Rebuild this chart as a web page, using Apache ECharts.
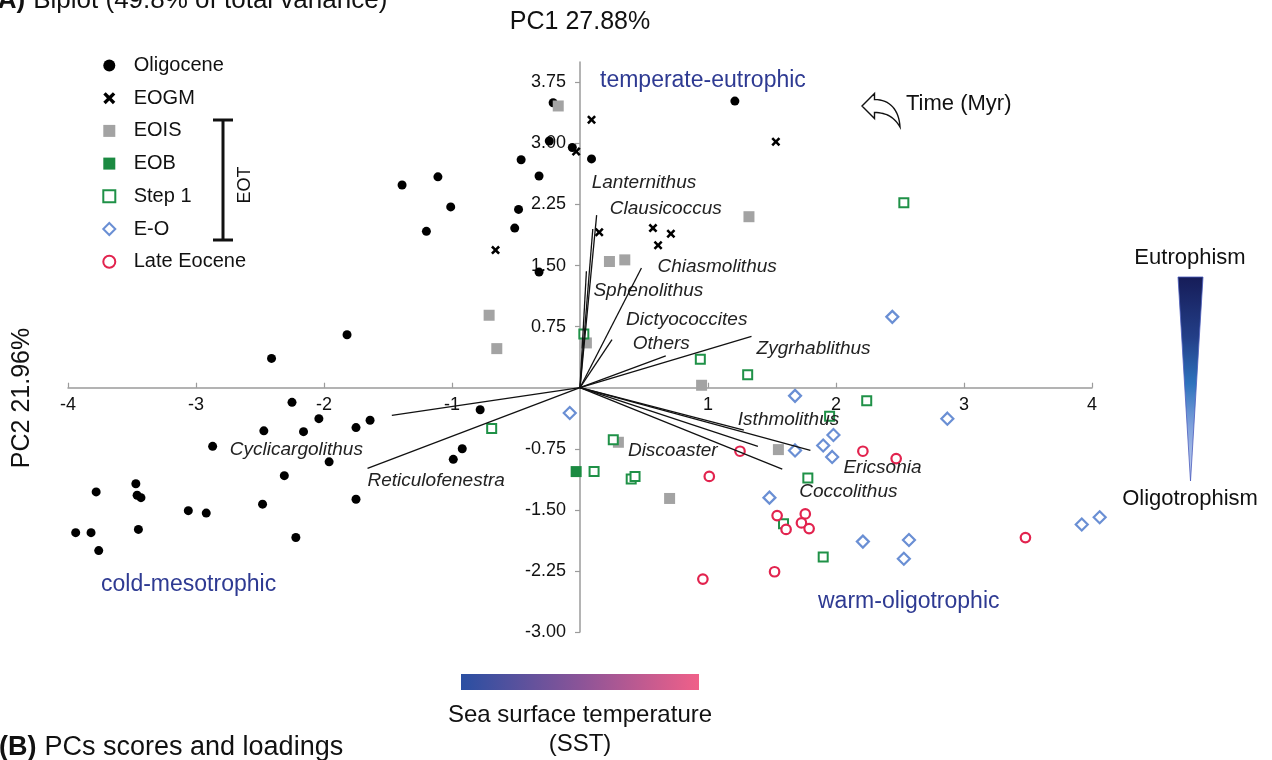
<!DOCTYPE html>
<html>
<head>
<meta charset="utf-8">
<title>Biplot</title>
<script src="https://cdn.jsdelivr.net/npm/echarts@6/dist/echarts.min.js"></script>
<style>
  html, body { margin: 0; padding: 0; background: #fff; }
  #chart { width: 1272px; height: 760px; }
</style>
</head>
<body>
<div id="chart"></div>
<script>
// PCA sample scores (PC1, PC2) per interval
const oligocene = [
  [-0.21, 3.50], [-0.24, 3.03], [-0.06, 2.95], [0.09, 2.81], [-0.46, 2.80],
  [-1.11, 2.59], [-0.32, 2.60], [-1.39, 2.49], [-1.01, 2.22], [-0.48, 2.19],
  [-1.20, 1.92], [-0.51, 1.96], [-0.32, 1.42], [1.21, 3.52], [-1.82, 0.65],
  [-2.41, 0.36], [-2.25, -0.18], [-2.04, -0.38], [-1.64, -0.40], [-1.75, -0.49],
  [-2.47, -0.53], [-2.16, -0.54], [-0.78, -0.27], [-2.87, -0.72], [-0.92, -0.75],
  [-0.99, -0.88], [-1.96, -0.91], [-2.31, -1.08], [-3.47, -1.18], [-3.78, -1.28],
  [-3.46, -1.32], [-3.43, -1.35], [-1.75, -1.37], [-3.06, -1.51], [-2.92, -1.54],
  [-2.48, -1.43], [-3.94, -1.78], [-3.82, -1.78], [-3.45, -1.74], [-3.76, -2.00],
  [-2.22, -1.84]
];
const eogm = [
  [0.09, 3.29], [-0.03, 2.90], [-0.66, 1.69], [0.15, 1.91], [0.57, 1.96],
  [0.71, 1.89], [0.61, 1.75], [1.53, 3.02]
];
const eois = [
  [-0.17, 3.46], [0.23, 1.55], [0.35, 1.57], [1.32, 2.10], [-0.71, 0.89],
  [-0.65, 0.48], [0.05, 0.55], [0.95, 0.03], [0.30, -0.67], [1.55, -0.76],
  [0.70, -1.36]
];
const eob = [[-0.03, -1.03]];
const step1 = [
  [2.53, 2.27], [0.03, 0.66], [0.94, 0.35], [1.31, 0.16], [2.24, -0.16],
  [1.95, -0.35], [-0.69, -0.50], [0.26, -0.64], [0.11, -1.03], [0.40, -1.12],
  [0.43, -1.09], [1.78, -1.11], [1.59, -1.67], [1.90, -2.08]
];
const eoTransition = [
  [2.44, 0.87], [1.68, -0.10], [2.87, -0.38], [-0.08, -0.31], [1.98, -0.58],
  [1.90, -0.71], [1.68, -0.77], [1.97, -0.85], [1.48, -1.35], [2.21, -1.89],
  [2.57, -1.87], [2.53, -2.10], [3.92, -1.68], [4.06, -1.59]
];
const lateEocene = [
  [1.25, -0.78], [2.21, -0.78], [2.47, -0.87], [1.01, -1.09], [1.54, -1.57],
  [1.61, -1.74], [1.76, -1.55], [1.73, -1.66], [1.79, -1.73], [1.52, -2.26],
  [0.96, -2.35], [3.48, -1.84]
];

// Taxa loadings (vector end points)
const loadingNames = [
  'Lanternithus', 'Clausicoccus', 'Sphenolithus', 'Chiasmolithus', 'Dictyococcites',
  'Others', 'Zygrhablithus', 'Isthmolithus', 'Discoaster', 'Ericsonia',
  'Coccolithus', 'Cyclicargolithus', 'Reticulofenestra'
];
const loadingVectors = [
  [0.13, 2.12], [0.10, 1.95], [0.05, 1.43], [0.48, 1.47], [0.25, 0.59],
  [0.67, 0.39], [1.34, 0.63], [1.28, -0.52], [1.39, -0.72], [1.80, -0.77],
  [1.58, -1.00], [-1.47, -0.34], [-1.66, -0.99]
];

// Axis tick labels
const xTickValues = [-4, -3, -2, -1, 1, 2, 3, 4];
const yTickValues = [-3, -2.25, -1.5, -0.75, 0.75, 1.5, 2.25, 3, 3.75];

// Label placement of each taxon name, in pixels from its vector tip
const loadingLabelOffset = [
  [-5, -32], [17, -20], [7, 19], [16, -1], [14, -20],
  [-33, -12], [5, 12], [-6, -10], [-130, 4], [33, 17],
  [17, 23], [-162, 34], [0, 12]
];

const FONT = "'Liberation Sans', Arial, Helvetica, sans-serif";
const crossPath = 'path://M2,0L5,3L8,0L10,2L7,5L10,8L8,10L5,7L2,10L0,8L3,5L0,2Z';

// Plot frame: x spans [-4, 4], y spans [-3, 4]
const GRID = { left: 68, right: 180, top: 62, bottom: 128 };
const plotW = 1272 - GRID.left - GRID.right;
const plotH = 760 - GRID.top - GRID.bottom;
const X_MIN = -4, X_MAX = 4, Y_MIN = -3, Y_MAX = 4;
// axes cross at the origin
const yAxisShift = -plotW * (0 - X_MIN) / (X_MAX - X_MIN);
const xAxisShift = -plotH * (0 - Y_MIN) / (Y_MAX - Y_MIN);

function linearGradient(x2, y2, stops) {
  return { type: 'linear', x: 0, y: 0, x2, y2, colorStops: stops.map(([offset, color]) => ({ offset, color })) };
}

// Curved "back in time" arrow outline, sampled from two cubic curves
function cubic(p0, p1, p2, p3, n) {
  const pts = [];
  for (let i = 0; i <= n; i++) {
    const t = i / n, u = 1 - t;
    pts.push([
      u * u * u * p0[0] + 3 * u * u * t * p1[0] + 3 * u * t * t * p2[0] + t * t * t * p3[0],
      u * u * u * p0[1] + 3 * u * u * t * p1[1] + 3 * u * t * t * p2[1] + t * t * t * p3[1]
    ]);
  }
  return pts;
}
const arrowPoints = [[862, 106], [874.5, 93.5]]
  .concat(cubic([874.5, 99.5], [890, 99.5], [899, 110], [900, 127], 16))
  .concat(cubic([900, 127], [895, 118], [887, 112.5], [874.5, 112.5], 16))
  .concat([[874.5, 118.5]]);

const chart = echarts.init(document.getElementById('chart'), null, { renderer: 'canvas' });

function scatter(name, data, symbol, size, itemStyle) {
  return {
    name, type: 'scatter', data, symbol, symbolSize: size,
    itemStyle: Object.assign({ opacity: 1 }, itemStyle), clip: false, z: 2, silent: true
  };
}

const option = {
  animation: false,
  backgroundColor: '#ffffff',
  textStyle: { fontFamily: FONT },
  grid: Object.assign({ containLabel: false }, GRID),
  xAxis: {
    type: 'value', min: X_MIN, max: X_MAX, interval: 1,
    position: 'bottom', offset: xAxisShift,
    axisLine: { onZero: false, lineStyle: { color: '#9b9b9b', width: 1.5 } },
    axisTick: { inside: true, length: 5, customValues: xTickValues, lineStyle: { color: '#9b9b9b', width: 1.2 } },
    axisLabel: { customValues: xTickValues, margin: 8, fontSize: 18, color: '#111', fontFamily: FONT,
                 formatter: v => String(v) },
    splitLine: { show: false }
  },
  yAxis: {
    type: 'value', min: Y_MIN, max: Y_MAX, interval: 0.75,
    position: 'left', offset: yAxisShift,
    axisLine: { onZero: false, lineStyle: { color: '#9b9b9b', width: 1.5 } },
    axisTick: { length: 5, customValues: yTickValues, lineStyle: { color: '#9b9b9b', width: 1.2 } },
    axisLabel: { customValues: yTickValues, margin: 14, fontSize: 18, color: '#111', fontFamily: FONT,
                 formatter: v => v.toFixed(2) },
    splitLine: { show: false }
  },
  legend: {
    orient: 'vertical', left: 97.3, top: 50.5,
    itemWidth: 12, itemHeight: 12, itemGap: 12.7,
    textStyle: { fontSize: 20, lineHeight: 20, color: '#111', fontFamily: FONT, padding: [0, 0, 0, 13.4] },
    data: ['Oligocene', 'EOGM', 'EOIS', 'EOB', 'Step 1', 'E-O', 'Late Eocene'],
    selectedMode: false
  },
  series: [
    scatter('Oligocene', oligocene, 'circle', 9, { color: '#000' }),
    scatter('EOGM', eogm, crossPath, 9, { color: '#000' }),
    scatter('EOIS', eois, 'rect', 11, { color: '#a3a3a3' }),
    scatter('EOB', eob, 'rect', 11, { color: '#1b8a41' }),
    scatter('Step 1', step1, 'rect', 9, { color: '#ffffff', borderColor: '#1f9147', borderWidth: 2 }),
    scatter('E-O', eoTransition, 'diamond', 12, { color: '#ffffff', borderColor: '#6a8fd4', borderWidth: 2.2 }),
    scatter('Late Eocene', lateEocene, 'circle', 9.5, { color: '#ffffff', borderColor: '#e2234e', borderWidth: 2.2 }),
    {
      name: 'Loadings', type: 'custom', data: loadingVectors, z: 5, silent: true, clip: false,
      encode: { x: 0, y: 1 },
      renderItem: (params, api) => {
        const i = params.dataIndex;
        const o = api.coord([0, 0]);
        const e = api.coord([api.value(0), api.value(1)]);
        const off = loadingLabelOffset[i];
        return {
          type: 'group',
          children: [
            { type: 'line', shape: { x1: o[0], y1: o[1], x2: e[0], y2: e[1] },
              style: { stroke: '#111', lineWidth: 1.3 } },
            { type: 'text', x: e[0] + off[0], y: e[1] + off[1],
              style: { text: loadingNames[i], fill: '#222', fontSize: 19, fontStyle: 'italic',
                       fontFamily: FONT, align: 'left', verticalAlign: 'middle' } }
          ]
        };
      }
    }
  ],
  graphic: [
    // panel titles
    { type: 'text', x: -11, y: 1, style: { text: '(A)', font: "bold 26px " + FONT, fill: '#111', verticalAlign: 'middle' } },
    { type: 'text', x: 26, y: 1, style: { text: ' Biplot (49.8% of total variance)', font: "26px " + FONT, fill: '#111', verticalAlign: 'middle' } },
    { type: 'text', x: -1, y: 748, style: { text: '(B)', font: "bold 27px " + FONT, fill: '#111', verticalAlign: 'middle' } },
    { type: 'text', x: 37, y: 748, style: { text: ' PCs scores and loadings', font: "27px " + FONT, fill: '#111', verticalAlign: 'middle' } },
    // axis titles
    { type: 'text', x: 580, y: 22, style: { text: 'PC1 27.88%', font: "25px " + FONT, fill: '#111', align: 'center', verticalAlign: 'middle' } },
    { type: 'text', x: 22, y: 398, rotation: Math.PI / 2,
      style: { text: 'PC2 21.96%', font: "25px " + FONT, fill: '#111', align: 'center', verticalAlign: 'middle' } },
    // quadrant names
    { type: 'text', x: 600, y: 81, style: { text: 'temperate-eutrophic', font: "23px " + FONT, fill: '#2e3a92', verticalAlign: 'middle' } },
    { type: 'text', x: 101, y: 585, style: { text: 'cold-mesotrophic', font: "23px " + FONT, fill: '#2e3a92', verticalAlign: 'middle' } },
    { type: 'text', x: 818, y: 602, style: { text: 'warm-oligotrophic', font: "23px " + FONT, fill: '#2e3a92', verticalAlign: 'middle' } },
    // EOT bracket
    { type: 'line', shape: { x1: 223, y1: 120, x2: 223, y2: 240 }, style: { stroke: '#111', lineWidth: 3 } },
    { type: 'line', shape: { x1: 213, y1: 120, x2: 233, y2: 120 }, style: { stroke: '#111', lineWidth: 3 } },
    { type: 'line', shape: { x1: 213, y1: 240, x2: 233, y2: 240 }, style: { stroke: '#111', lineWidth: 3 } },
    { type: 'text', x: 245, y: 185, rotation: Math.PI / 2,
      style: { text: 'EOT', font: "18px " + FONT, fill: '#111', align: 'center', verticalAlign: 'middle' } },
    // time arrow
    { type: 'polygon', shape: { points: arrowPoints },
      style: { fill: '#fff', stroke: '#111', lineWidth: 1.4 } },
    { type: 'text', x: 906, y: 104, style: { text: 'Time (Myr)', font: "22px " + FONT, fill: '#111', verticalAlign: 'middle' } },
    // trophic gradient wedge
    { type: 'polygon', shape: { points: [[1178, 277], [1203, 277], [1190.5, 481]] },
      style: {
        fill: linearGradient(0, 1, [[0, '#161c58'], [0.3, '#233f88'], [0.52, '#2d72bc'], [0.72, '#7c9fdb'], [1, '#c9d4f1']]),
        stroke: '#4a5cbc', lineWidth: 0.8
      } },
    { type: 'text', x: 1190, y: 258, style: { text: 'Eutrophism', font: "22px " + FONT, fill: '#111', align: 'center', verticalAlign: 'middle' } },
    { type: 'text', x: 1190, y: 499, style: { text: 'Oligotrophism', font: "22px " + FONT, fill: '#111', align: 'center', verticalAlign: 'middle' } },
    // SST colour bar
    { type: 'rect', shape: { x: 461, y: 674, width: 238, height: 16 },
      style: { fill: linearGradient(1, 0, [[0, '#2a4fa2'], [0.5, '#8b5498'], [1, '#f06089']]) } },
    { type: 'text', x: 580, y: 715, style: { text: 'Sea surface temperature', font: "24px " + FONT, fill: '#111', align: 'center', verticalAlign: 'middle' } },
    { type: 'text', x: 580, y: 744, style: { text: '(SST)', font: "24px " + FONT, fill: '#111', align: 'center', verticalAlign: 'middle' } }
  ]
};

chart.setOption(option);
</script>
</body>
</html>
